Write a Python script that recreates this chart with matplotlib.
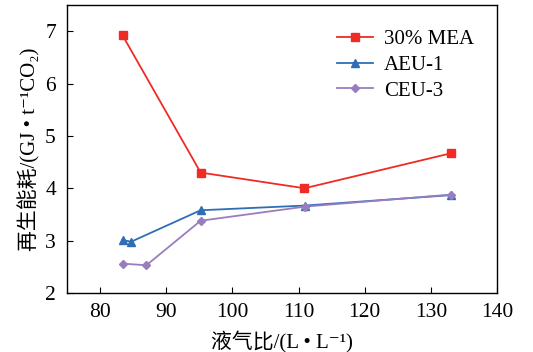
import matplotlib
matplotlib.use('Agg')
import matplotlib.pyplot as plt

plt.rcParams['font.family'] = ['Liberation Serif', 'Noto Sans CJK SC', 'DejaVu Serif']

# data
x_mea = [83.4, 95.2, 110.9, 133.1]
y_mea = [6.92, 4.30, 4.00, 4.67]
x_aeu = [83.4, 84.7, 95.2, 111.0, 133.1]
y_aeu = [3.01, 2.98, 3.58, 3.67, 3.87]
x_ceu = [83.5, 87.0, 95.2, 111.0, 133.1]
y_ceu = [2.56, 2.53, 3.38, 3.65, 3.88]

fig = plt.figure(figsize=(5.33, 3.52), dpi=100)
ax = fig.add_axes([67/533, 1-293/352, 430/533, 288/352])

ax.plot(x_mea, y_mea, '-s', color='#ee2b25', lw=1.3, ms=5.5, label='30% MEA')
ax.plot(x_aeu, y_aeu, '-^', color='#2f6db5', lw=1.3, ms=6, label='AEU-1')
ax.plot(x_ceu, y_ceu, '-D', color='#9a7dbf', lw=1.3, ms=4, label='CEU-3')

ax.set_xlim(75, 140)
ax.set_ylim(2, 7.5)
ax.set_xticks(range(80, 141, 10))
ax.set_yticks(range(2, 8))
ax.tick_params(direction='in', labelsize=15.5, length=4)
ax.tick_params(axis='x', pad=7)
ax.tick_params(axis='y', pad=8)
for s in ax.spines.values():
    s.set_linewidth(1.0)

ax.set_xlabel('液气比/(L • L⁻¹)', fontsize=15, labelpad=7)
ax.set_ylabel('再生能耗/(GJ • t⁻¹CO₂)', fontsize=15, labelpad=3)

ax.legend(loc='upper right', frameon=False, fontsize=15, handlelength=1.75,
          labelspacing=0.3, handletextpad=0.5, bbox_to_anchor=(0.99, 0.98))

fig.savefig('out.png', dpi=100)
